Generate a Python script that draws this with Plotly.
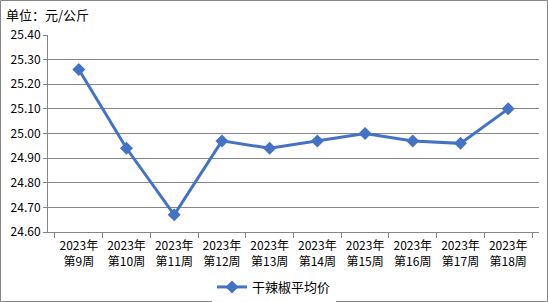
import plotly.graph_objects as go

categories = ["2023年<br>第9周", "2023年<br>第10周", "2023年<br>第11周", "2023年<br>第12周",
              "2023年<br>第13周", "2023年<br>第14周", "2023年<br>第15周", "2023年<br>第16周",
              "2023年<br>第17周", "2023年<br>第18周"]
values = [25.26, 24.94, 24.67, 24.97, 24.94, 24.97, 25.00, 24.97, 24.96, 25.10]
series_name = "干辣椒平均价"
y_ticks = [24.6, 24.7, 24.8, 24.9, 25.0, 25.1, 25.2, 25.3, 25.4]

font_family = "SimSun, Noto Sans CJK SC, sans-serif"

fig = go.Figure()
fig.add_trace(go.Scatter(
    x=categories, y=values, name=series_name, mode="lines+markers",
    line=dict(color="#4472C4", width=3),
    marker=dict(symbol="diamond", size=10, color="#4472C4"),
))

fig.update_layout(
    width=548, height=302,
    margin=dict(l=48, r=9, t=35, b=70, autoexpand=False),
    paper_bgcolor="white", plot_bgcolor="white",
    font=dict(family=font_family, size=12, color="#000000"),
    showlegend=True,
    legend=dict(orientation="h", x=0.5, xanchor="center", xref="container",
                y=15/302, yanchor="middle", yref="container",
                font=dict(size=13, family=font_family)),
    xaxis=dict(
        type="category", showgrid=False, showline=True, linecolor="#868686",
        ticks="outside", ticklen=5, tickcolor="#868686", tickson="boundaries",
        tickfont=dict(size=12, family=font_family), automargin=False,
        ticklabelstandoff=3,
    ),
    yaxis=dict(
        range=[24.6, 25.4], tickvals=y_ticks, tickformat=".2f",
        showgrid=True, gridcolor="#868686", gridwidth=1,
        showline=True, linecolor="#868686", ticks="outside", ticklen=4, tickcolor="#868686",
        tickfont=dict(size=12, family=font_family), zeroline=False, automargin=False,
    ),
    annotations=[dict(text="单位：元/公斤", xref="paper", yref="paper", x=-44/491, y=1 + 20/197,
                      xanchor="left", yanchor="middle", showarrow=False,
                      font=dict(size=13, family=font_family))],
    shapes=[dict(type="rect", xref="paper", yref="paper",
                 x0=-47.5/491, x1=1 + 8.5/491, y0=-69.5/197, y1=1 + 34.5/197,
                 line=dict(color="#868686", width=1))],
)

fig.write_html("out.html")
